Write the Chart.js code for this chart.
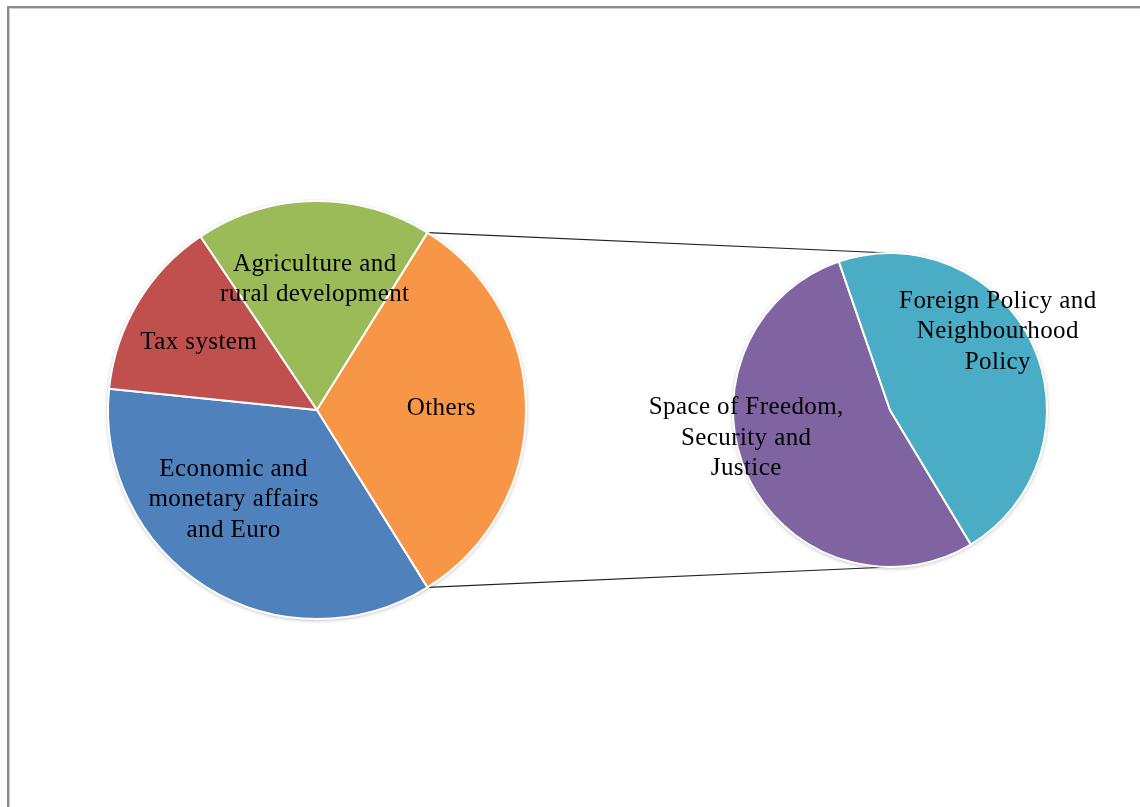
<!DOCTYPE html>
<html>
<head>
<meta charset="utf-8">
<script src="https://cdn.jsdelivr.net/npm/chart.js@4.4.1/dist/chart.umd.min.js"></script>
<style>
  html, body { margin: 0; padding: 0; background: #fff; }
  body { width: 1140px; height: 807px; position: relative; overflow: hidden; }
  #frame {
    position: absolute; left: 7px; top: 6px; width: 1200px; height: 900px;
    border: 2px solid #8a8a8a; box-shadow: inset 1px 1px 0 #cfcfcf;
  }
  canvas { position: absolute; }
  #links { left: 0; top: 0; }
  #pieMain { left: 97px; top: 190px; }
  #pieSub { left: 630px; top: 210px; }
</style>
</head>
<body>
<div id="frame"></div>
<canvas id="links" width="1140" height="807"></canvas>
<canvas id="pieMain" width="440" height="440"></canvas>
<canvas id="pieSub" width="520" height="400"></canvas>
<script>
// main pie: the last slice ("Others") is the sum of the sub pie
const mainLabels = [
  ['Economic and', 'monetary affairs', 'and Euro'],
  ['Tax system'],
  ['Agriculture and', 'rural development']
];
const mainValues = [33, 13, 17];
const othersLabel = ['Others'];

// sub pie (split of "Others")
const subLabels = [
  ['Space of Freedom,', 'Security and', 'Justice'],
  ['Foreign Policy and', 'Neighbourhood', 'Policy']
];
const subValues = [16, 14];

const mainColors = ['#4F81BD', '#C0504D', '#9BBB59', '#F79646'];
const subColors = ['#8064A2', '#4BACC6'];

const othersValue = subValues.reduce((a, b) => a + b, 0);
const allMain = mainValues.concat([othersValue]);
const mainTotal = allMain.reduce((a, b) => a + b, 0);
// "Others" slice centred on the right-hand side (3 o'clock)
const othersAngle = othersValue / mainTotal * 360;
const mainRotation = 90 + othersAngle / 2;

// label placement tweaks: [angle shift in degrees, fraction of radius]
const mainLabelPos = [[12, 0.575], [0, 0.66], [0, 0.64], [-2, 0.595]];
const subLabelPos = [[15, 0.93], [-12, 0.86]];

const FONT = '25px "Liberation Serif", "Times New Roman", serif';
const LINE_H = 30.5;
const TEXT_DY = 3;

const pieShadow = {
  id: 'pieShadow',
  beforeDatasetsDraw(chart) {
    const el = chart.getDatasetMeta(0).data[0];
    if (!el) return;
    const p = el.getProps(['x', 'y', 'outerRadius'], true);
    const ctx = chart.ctx;
    ctx.save();
    ctx.shadowColor = 'rgba(0,0,0,0.35)';
    ctx.shadowBlur = 4;
    ctx.shadowOffsetX = 0;
    ctx.shadowOffsetY = 1;
    ctx.fillStyle = '#fff';
    ctx.beginPath();
    ctx.arc(p.x, p.y, p.outerRadius, 0, Math.PI * 2);
    ctx.fill();
    ctx.restore();
  }
};

const sliceLabels = {
  id: 'sliceLabels',
  afterDatasetsDraw(chart, args, opts) {
    const ctx = chart.ctx;
    const meta = chart.getDatasetMeta(0);
    ctx.save();
    ctx.font = FONT;
    if ('letterSpacing' in ctx) ctx.letterSpacing = '0.4px';
    ctx.fillStyle = '#000';
    ctx.textAlign = 'center';
    ctx.textBaseline = 'middle';
    meta.data.forEach((el, i) => {
      const p = el.getProps(['x', 'y', 'startAngle', 'endAngle', 'outerRadius'], true);
      const pos = opts.pos[i];
      const mid = (p.startAngle + p.endAngle) / 2 + pos[0] * Math.PI / 180;
      const cx = p.x + Math.cos(mid) * p.outerRadius * pos[1];
      const cy = p.y + Math.sin(mid) * p.outerRadius * pos[1] + TEXT_DY;
      let lines = chart.data.labels[i];
      if (!Array.isArray(lines)) lines = [lines];
      lines.forEach((line, j) => {
        ctx.fillText(line, cx, cy + (j - (lines.length - 1) / 2) * LINE_H);
      });
    });
    ctx.restore();
  }
};

function pieConfig(labels, values, colors, rotation, radius, labelPos) {
  return {
    type: 'pie',
    data: {
      labels: labels,
      datasets: [{
        data: values,
        backgroundColor: colors,
        borderColor: '#ffffff',
        borderWidth: 2
      }]
    },
    options: {
      responsive: false,
      animation: false,
      rotation: rotation,
      radius: radius,
      layout: { padding: 0 },
      plugins: {
        legend: { display: false },
        tooltip: { enabled: false },
        sliceLabels: { pos: labelPos }
      }
    },
    plugins: [pieShadow, sliceLabels]
  };
}

const mainChart = new Chart(document.getElementById('pieMain'),
  pieConfig(mainLabels.concat([othersLabel]), allMain, mainColors, mainRotation, 209, mainLabelPos));

const subChart = new Chart(document.getElementById('pieSub'),
  pieConfig(subLabels, subValues, subColors, 149, 157, subLabelPos));

// connector lines from the "Others" slice edges to the top and bottom of the sub pie
function drawLinks() {
  const mainCanvas = document.getElementById('pieMain');
  const subCanvas = document.getElementById('pieSub');
  const others = mainChart.getDatasetMeta(0).data[mainValues.length]
    .getProps(['x', 'y', 'startAngle', 'endAngle', 'outerRadius'], true);
  const sub = subChart.getDatasetMeta(0).data[0].getProps(['x', 'y', 'outerRadius'], true);

  const ox = mainCanvas.offsetLeft + others.x;
  const oy = mainCanvas.offsetTop + others.y;
  const sx = subCanvas.offsetLeft + sub.x;
  const sy = subCanvas.offsetTop + sub.y;

  const ctx = document.getElementById('links').getContext('2d');
  ctx.strokeStyle = '#222';
  ctx.lineWidth = 1.2;
  ctx.beginPath();
  ctx.moveTo(ox + Math.cos(others.startAngle) * others.outerRadius, oy + Math.sin(others.startAngle) * others.outerRadius);
  ctx.lineTo(sx, sy - sub.outerRadius);
  ctx.moveTo(ox + Math.cos(others.endAngle) * others.outerRadius, oy + Math.sin(others.endAngle) * others.outerRadius);
  ctx.lineTo(sx, sy + sub.outerRadius);
  ctx.stroke();
}
drawLinks();
</script>
</body>
</html>
